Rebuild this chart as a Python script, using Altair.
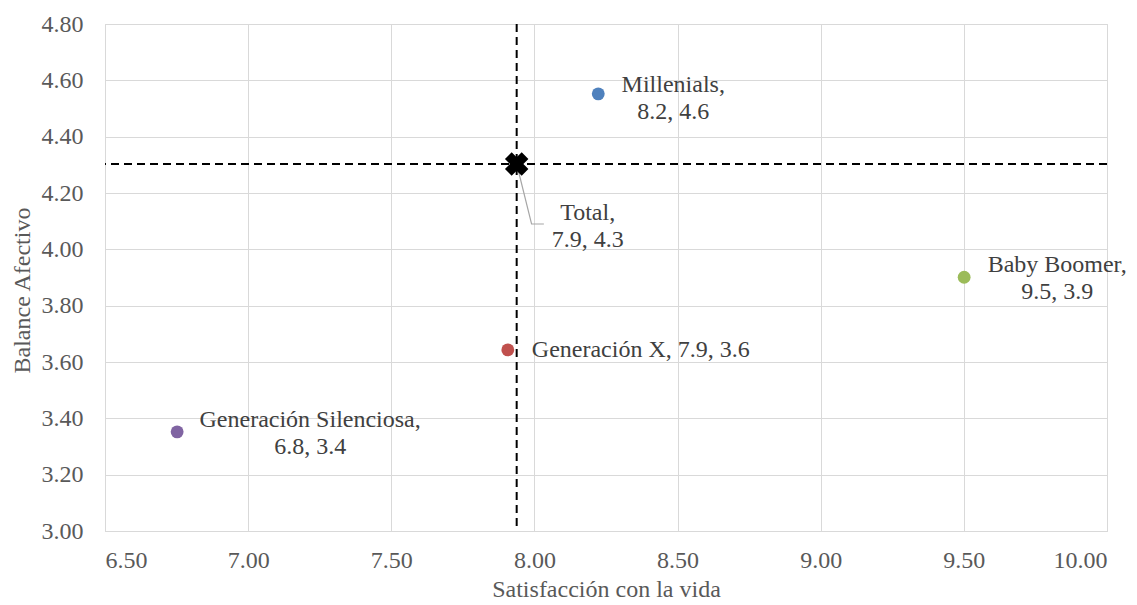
import altair as alt
import pandas as pd

# ---- data ----
groups = ["Millenials", "Generación X", "Baby Boomer", "Generación Silenciosa"]
satisfaccion = [8.223, 7.907, 9.501, 6.752]
balance = [4.552, 3.643, 3.901, 3.352]
group_colors = ["#4F81BD", "#C0504D", "#9BBB59", "#8064A2"]

total_name = "Total"
total_sat = [7.938]
total_bal = [4.303]

# leader line of the "Total" label (data coordinates)
leader_sat = [7.938, 7.990, 8.033]
leader_bal = [4.303, 4.090, 4.090]

x_ticks = [6.5, 7.0, 7.5, 8.0, 8.5, 9.0, 9.5, 10.0]
y_ticks = [3.0, 3.2, 3.4, 3.6, 3.8, 4.0, 4.2, 4.4, 4.6, 4.8]

FONT = "Liberation Serif"

# ---- tables ----
pts = pd.DataFrame({"name": groups, "sat": satisfaccion, "bal": balance})
tot = pd.DataFrame({"name": [total_name], "sat": total_sat, "bal": total_bal})
leader = pd.DataFrame({"sat": leader_sat, "bal": leader_bal, "o": list(range(len(leader_sat)))})

def label_text(name, x, y, multiline=True):
    sep = "\n" if multiline else " "
    return f"{name},{sep}{x:.1f}, {y:.1f}"

labels = pd.DataFrame({
    "name": groups + [total_name],
    "sat": satisfaccion + total_sat,
    "bal": balance + total_bal,
})
labels["text"] = [
    label_text(n, x, y, multiline=(n != "Generación X"))
    for n, x, y in zip(labels["name"], labels["sat"], labels["bal"])
]

# label placement (styles)
label_style = {
    "Millenials": dict(align="center", dx=75, dy=-2),
    "Generación X": dict(align="left", dx=24, dy=7),
    "Baby Boomer": dict(align="center", dx=93, dy=-5),
    "Generación Silenciosa": dict(align="center", dx=133, dy=-5),
    "Total": dict(align="center", dx=71, dy=56),
}

W, H = 1002, 507

xscale = alt.Scale(domain=[6.5, 10.0], nice=False, zero=False)
yscale = alt.Scale(domain=[3.0, 4.8], nice=False, zero=False)

xaxis = alt.Axis(
    values=x_ticks, format=".2f", title="Satisfacción con la vida",
    grid=True, gridColor="#D9D9D9", gridWidth=1,
    domainColor="#D9D9D9", domainWidth=1, ticks=False, tickSize=0,
    labelFont=FONT, labelFontSize=24, labelColor="#595959",
    labelBaseline="alphabetic", labelPadding=36,
    titleFont=FONT, titleFontSize=24, titleColor="#595959", titleFontWeight="normal",
    titleBaseline="alphabetic", titleX=W / 2, titleY=65, titleAnchor="middle",
)
yaxis = alt.Axis(
    values=y_ticks, format=".2f", title="Balance Afectivo",
    grid=True, gridColor="#D9D9D9", gridWidth=1,
    domainColor="#D9D9D9", domainWidth=1, ticks=False, tickSize=0,
    labelFont=FONT, labelFontSize=24, labelColor="#595959",
    labelPadding=22, labelBaseline="middle",
    titleFont=FONT, titleFontSize=24, titleColor="#595959", titleFontWeight="normal",
    titleBaseline="alphabetic", titleAngle=-90, titleX=-76, titleY=266, titleAnchor="middle",
    titleAlign="center",
)

base_axes = alt.Chart(pts).mark_point(opacity=0).encode(
    x=alt.X("sat:Q", scale=xscale, axis=xaxis),
    y=alt.Y("bal:Q", scale=yscale, axis=yaxis),
)

vrule = alt.Chart(tot).mark_rule(color="black", strokeWidth=2, strokeDash=[8, 5]).encode(
    x=alt.X("sat:Q", scale=xscale)
)
hrule = alt.Chart(tot).mark_rule(color="black", strokeWidth=2, strokeDash=[8, 5]).encode(
    y=alt.Y("bal:Q", scale=yscale)
)

leader_line = alt.Chart(leader).mark_line(color="#A6A6A6", strokeWidth=1.2).encode(
    x=alt.X("sat:Q", scale=xscale),
    y=alt.Y("bal:Q", scale=yscale),
    order="o:O",
)

dots = alt.Chart(pts).mark_point(filled=True, size=165, opacity=1).encode(
    x=alt.X("sat:Q", scale=xscale),
    y=alt.Y("bal:Q", scale=yscale),
    color=alt.Color("name:N", scale=alt.Scale(domain=groups, range=group_colors), legend=None),
)

xmark = alt.Chart(tot).mark_point(
    shape="cross", angle=45, filled=True, size=560, color="black", opacity=1
).encode(
    x=alt.X("sat:Q", scale=xscale),
    y=alt.Y("bal:Q", scale=yscale),
)

text_layers = []
for n, st in label_style.items():
    text_layers.append(
        alt.Chart(labels).transform_filter(alt.datum.name == n).mark_text(
            font=FONT, fontSize=24, color="#404040", baseline="alphabetic",
            lineBreak="\n", lineHeight=27, **st
        ).encode(
            x=alt.X("sat:Q", scale=xscale),
            y=alt.Y("bal:Q", scale=yscale),
            text="text:N",
        )
    )

chart = alt.layer(
    base_axes, vrule, hrule, leader_line, dots, xmark, *text_layers
).properties(
    width=W, height=H,
    autosize=alt.AutoSizeParams(type="none"),
    padding={"left": 105, "top": 24, "right": 30, "bottom": 74},
    background="white",
).configure_view(stroke="#D9D9D9", strokeWidth=1)

chart.save("out.html", embed_options={"renderer": "svg", "actions": False})
